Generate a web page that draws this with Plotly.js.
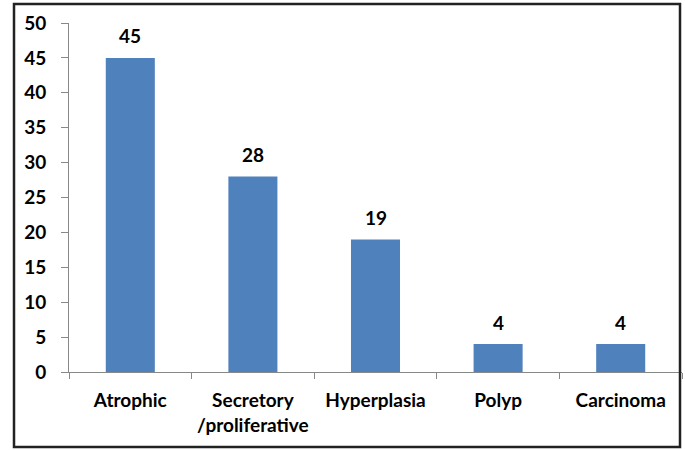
<!DOCTYPE html>
<html>
<head>
<meta charset="utf-8">
<script src="https://cdn.plot.ly/plotly-3.0.1.min.js"></script>
<style>body{margin:0;padding:0;background:#fff;}#chart{width:685px;height:450px;}</style>
</head>
<body>
<div id="chart"></div>
<script>
const categories = ["Atrophic", "Secretory<br>/proliferative", "Hyperplasia", "Polyp", "Carcinoma"];
const values = [45, 28, 19, 4, 4];
const yTicks = [0, 5, 10, 15, 20, 25, 30, 35, 40, 45, 50];

const font = {family: "Lato, 'Open Sans', sans-serif", size: 19, color: "#000", weight: "bold"};

const trace = {
  type: "bar",
  x: categories,
  y: values,
  width: 0.4,
  marker: {color: "#4F81BD"},
  hoverinfo: "none"
};

const annotations = categories.map((c, i) => ({
  x: c, y: values[i], xref: "x", yref: "y",
  text: String(values[i]), showarrow: false,
  yshift: 22, font: font
}));

const W = 685, H = 450, L = 69, R = 3, T = 23, B = 78;
const pw = W - L - R, ph = H - T - B;
const px = v => (v - L) / pw;
const py = v => (H - B - v) / ph;

const layout = {
  width: W, height: H,
  margin: {l: L, r: R, t: T, b: B, pad: 0},
  paper_bgcolor: "#fff",
  plot_bgcolor: "#fff",
  showlegend: false,
  font: font,
  xaxis: {
    showline: true, linecolor: "#888", linewidth: 1,
    ticks: "outside", ticklen: 6, tickcolor: "#888",
    tickson: "boundaries",
    tickangle: 0,
    ticklabelstandoff: 11,
    tickfont: font,
    showgrid: false, zeroline: false,
    fixedrange: true
  },
  yaxis: {
    range: [0, 50],
    tickvals: yTicks,
    showline: true, linecolor: "#888", linewidth: 1,
    ticks: "outside", ticklen: 7, tickcolor: "#888",
    ticklabelstandoff: 11,
    tickfont: font,
    showgrid: false, zeroline: false,
    fixedrange: true
  },
  annotations: annotations,
  shapes: [{
    type: "rect", xref: "paper", yref: "paper",
    x0: px(14), x1: px(680), y0: py(447), y1: py(4),
    line: {color: "#222", width: 2.5}, fillcolor: "rgba(0,0,0,0)", layer: "above"
  }]
};

Plotly.newPlot("chart", [trace], layout, {staticPlot: true, displayModeBar: false});
</script>
</body>
</html>
